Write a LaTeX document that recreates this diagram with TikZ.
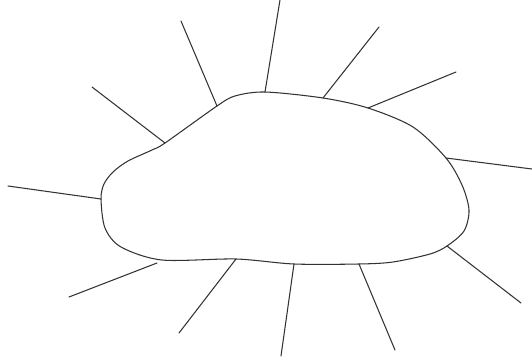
\documentclass[tikz,border=0pt]{standalone}
\usepackage{tikz}

\begin{document}
\begin{tikzpicture}[
        x=0.02cm, y=-0.02cm,
        outline/.style={draw=black!80, line width=0.6pt},
        ray/.style={draw=black!80, line width=0.6pt, line cap=round},
    ]
        \useasboundingbox (0,0) rectangle (532,362);

        % Blob
        \draw[outline] plot[smooth cycle, tension=0.5] coordinates {
            (101,199) (104,184) (113,172) (128,161) (152,150) (165,143)
            (217,106) (235,96) (265,92) (323,98) (368,108) (413,127)
            (446,158) (462,185) (469,210) (464,231) (447,246) (430,254)
            (393,262) (359,264) (294,264) (236,259) (162,260) (121,247)
            (105,228)};

        % Rays: inner point on blob / outer end
        \foreach \ix/\iy/\ox/\oy in {
            165/143/92/87, 217/106/181/21, 265/92/280/0, 323/98/379/27,
            368/108/456/72, 446/158/532/169, 447/246/521/303, 359/264/395/350,
            294/264/281/356, 236/259/179/333, 157/263/69/297, 101/199/8/186} {
            \coordinate (in) at (\ix,\iy);
            \coordinate (out) at (\ox,\oy);
            \draw[ray] (in) -- (out);
        }
\end{tikzpicture}
\end{document}
